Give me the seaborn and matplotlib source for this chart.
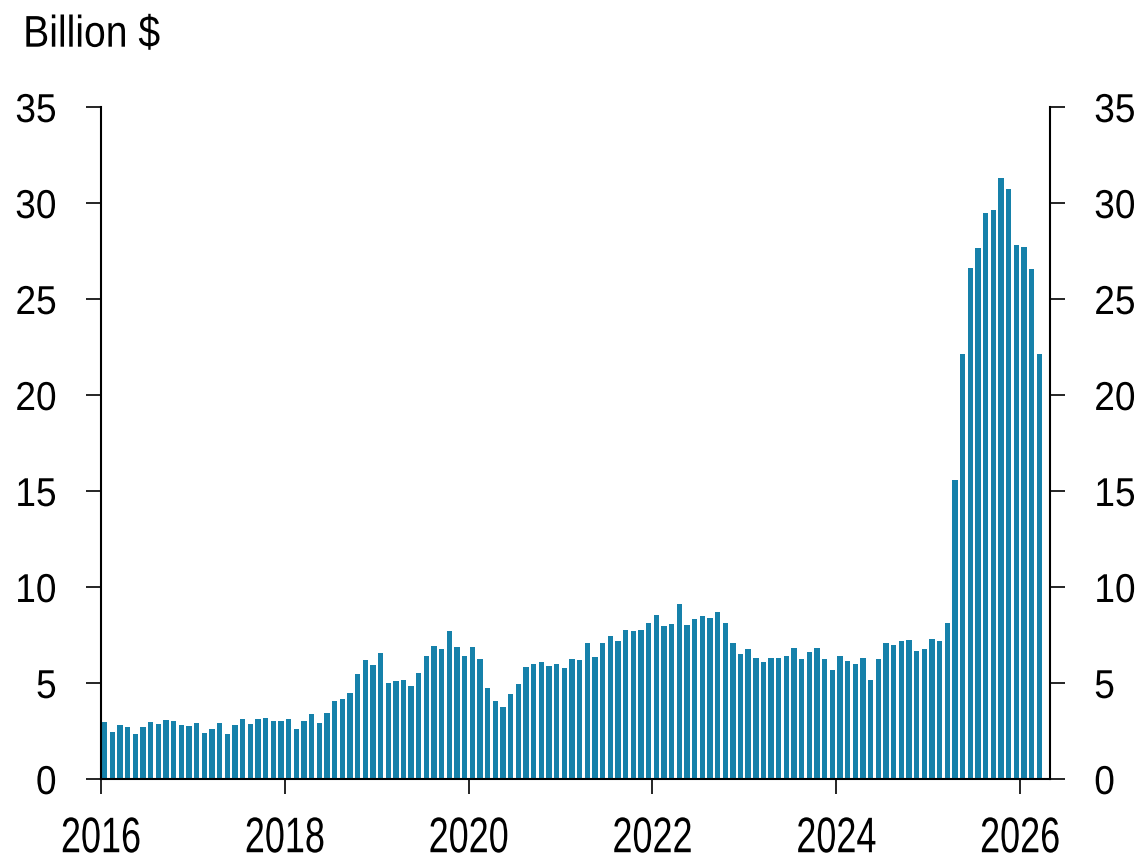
import numpy as np
import pandas as pd
import seaborn as sns
import matplotlib
matplotlib.use("Agg")
import matplotlib.pyplot as plt
from matplotlib.patheffects import AbstractPathEffect
from matplotlib.transforms import Affine2D

# Monthly values, Jan 2016 - Mar 2026 (billion $)
months = pd.date_range("2016-01-01", "2026-03-01", freq="MS")
values = [
    2.97, 2.46, 2.80, 2.71, 2.34, 2.71, 2.99, 2.88, 3.05, 3.00, 2.81, 2.76,   # 2016
    2.90, 2.41, 2.60, 2.93, 2.34, 2.80, 3.11, 2.86, 3.12, 3.16, 3.02, 3.02,   # 2017
    3.11, 2.59, 3.00, 3.37, 2.90, 3.42, 4.08, 4.18, 4.50, 5.47, 6.22, 5.92,   # 2018
    6.56, 5.00, 5.09, 5.16, 4.86, 5.52, 6.39, 6.93, 6.77, 7.69, 6.86, 6.39,   # 2019
    6.86, 6.23, 4.76, 4.04, 3.77, 4.41, 4.93, 5.83, 5.97, 6.08, 5.90, 5.97,   # 2020
    5.80, 6.25, 6.20, 7.07, 6.35, 7.08, 7.43, 7.20, 7.78, 7.71, 7.74, 8.13,   # 2021
    8.52, 7.99, 8.09, 9.11, 8.04, 8.32, 8.47, 8.39, 8.70, 8.11, 7.10, 6.49,   # 2022
    6.77, 6.28, 6.08, 6.28, 6.30, 6.41, 6.84, 6.25, 6.63, 6.84, 6.23, 5.68,   # 2023
    6.41, 6.15, 5.99, 6.30, 5.16, 6.25, 7.07, 6.98, 7.19, 7.24, 6.67, 6.75,   # 2024
    7.27, 7.19, 8.13, 15.57, 22.14, 26.60, 27.64, 29.48, 29.64, 31.32, 30.71, 27.83,  # 2025
    27.69, 26.56, 22.12,                                                       # 2026
]
year_ticks = [2016, 2018, 2020, 2022, 2024, 2026]
y_ticks = [0, 5, 10, 15, 20, 25, 30, 35]

bar_color = "#1681aa"


class Squeeze(AbstractPathEffect):
    """Draw text horizontally condensed (the reference uses a narrow face)."""
    def __init__(self, sx, anchor="center"):
        super().__init__()
        self.sx = sx
        self.anchor = anchor

    def draw_path(self, renderer, gc, tpath, affine, rgbFace=None):
        ext = tpath.get_extents()
        if self.anchor == "left":
            x0 = ext.x0
        elif self.anchor == "right":
            x0 = ext.x1
        else:
            x0 = (ext.x0 + ext.x1) / 2
        sq = Affine2D().translate(-x0, 0).scale(self.sx, 1).translate(x0, 0)
        renderer.draw_path(gc, tpath, sq + affine, rgbFace)


df = pd.DataFrame({"date": months, "value": values})
# centre each bar in the middle of its month
df["x"] = df["date"].dt.year + (df["date"].dt.month - 0.5) / 12

sns.set_style("white")
plt.rcParams["font.family"] = ["Liberation Sans", "DejaVu Sans"]
plt.rcParams["text.color"] = "black"

fig = plt.figure(figsize=(11.42, 8.6), dpi=100)
ax = fig.add_axes([0.0884, 0.0942, 0.9194 - 0.0884, 0.8756 - 0.0942])

sns.barplot(data=df, x="x", y="value", native_scale=True, width=0.7,
            color=bar_color, saturation=1, errorbar=None, linewidth=0, ax=ax)

ax.set_xlim(2016, 2016 + 123.9 / 12)
ax.set_ylim(0, 35)
ax.set_xticks(year_ticks)
ax.set_xticklabels([str(y) for y in year_ticks])
ax.set_yticks(y_ticks)
ax.set_xlabel("")
ax.set_ylabel("")

for side in ["left", "right", "bottom"]:
    ax.spines[side].set_visible(True)
    ax.spines[side].set_color("black")
    ax.spines[side].set_linewidth(1.5)
ax.spines["top"].set_visible(False)

ax.tick_params(axis="y", which="major", left=True, right=True, labelleft=True,
               labelright=True, direction="out", length=10.8, width=1.2,
               labelsize=29, pad=21, colors="black")
ax.tick_params(axis="x", which="major", bottom=True, direction="out",
               length=10.8, width=1.2, labelsize=36, pad=16, colors="black")

for tick in ax.yaxis.get_major_ticks():
    tick.label1.set_path_effects([Squeeze(0.92, "right")])
    tick.label2.set_path_effects([Squeeze(0.92, "left")])
for tick in ax.xaxis.get_major_ticks():
    tick.label1.set_path_effects([Squeeze(0.72, "center")])

title = fig.text(0.0199, 0.9457, "Billion $", fontsize=32, color="black",
                 ha="left", va="baseline")
title.set_path_effects([Squeeze(0.88, "left")])

fig.savefig("out.png", dpi=100)
plt.close(fig)
